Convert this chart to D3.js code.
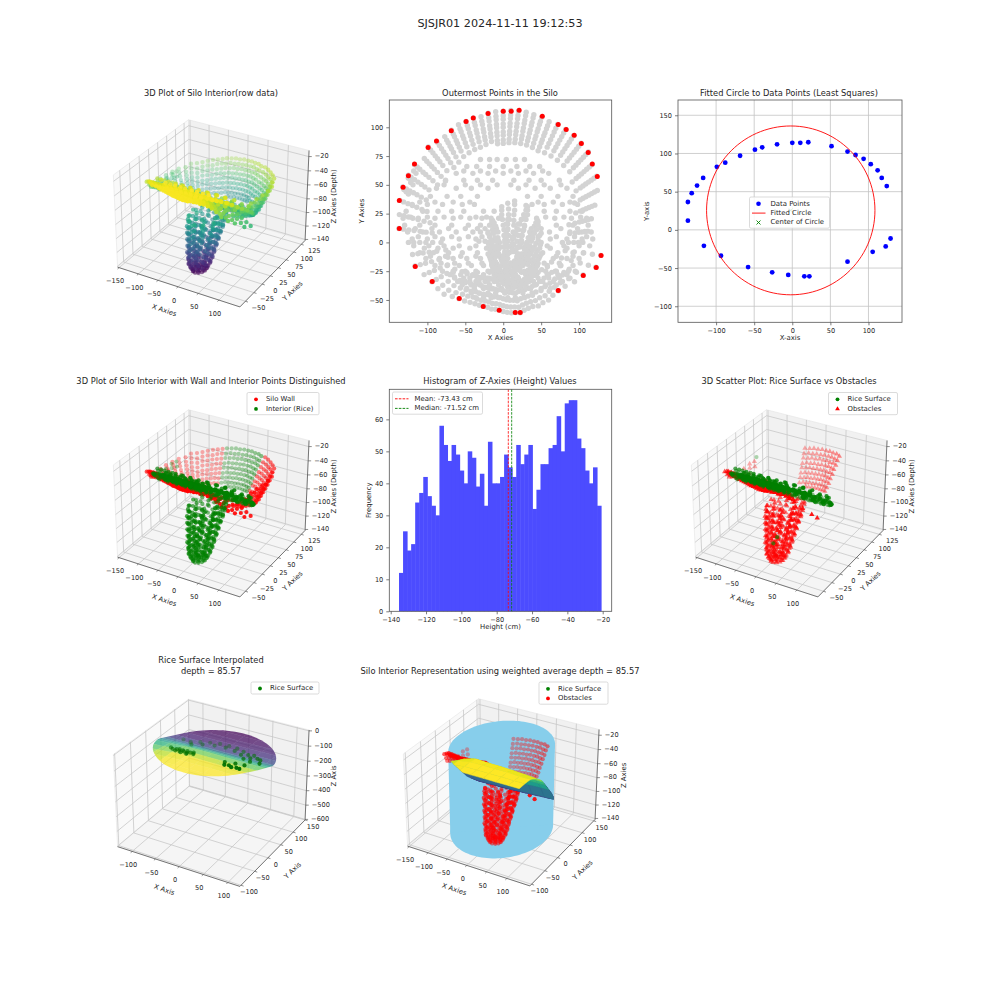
<!DOCTYPE html>
<html><head><meta charset="utf-8">
<script src="https://cdnjs.cloudflare.com/ajax/libs/d3/7.8.5/d3.min.js"></script>
<style>html,body{margin:0;background:#fff}svg{display:block}text{font-family:"DejaVu Sans",sans-serif;fill:#262626}</style>
</head><body><svg id="c" width="1000" height="1000"></svg>
<script>
// ---------- data ----------
const outerX=[-137,-137,-132,-125,-117,-99,-88,-68.5,-49,-39.5,-20,0,10.5,21,51.5,72.5,83,93.6,103,112,117.4,124,129,122.6,105.5,72.5,22.4,15.8,-5.3,-26.4,-58,-93.6,-116];
const outerY=[12,36.5,48,58,68,82.5,88,97,105,108,112,114,114,114.7,109.5,102.5,98,93,86,78,68,57.3,-11.3,-21.7,-28.7,-41.7,-60.8,-60.8,-59,-55.6,-48.7,-33.9,-20.9];
const circleCenter=[-2,25.5], circleRadius=110.5;
const histCounts=[12,25,19,21,34,37,42,36,33,30,58,52,47,52,49,44,40,50,48,39,43,33,53,40,40,42,49,45,42,52,46,49,52,32,38,46,46,51,52,61,50,65,66,66,54,51,44,40,45,33];
const histMin=-135.3, histMax=-20.9, zMean=-73.43, zMedian=-71.52;
// rays: [azimuth, [radius,z, radius,z, ...]]
const wallRaysRight=[[0,[105,-44,99,-48,93,-52,86,-56,78,-58]],[5,[112,-39,108,-44,104,-49,100,-54,95,-58,88,-60]],[10,[118,-37,114,-42,110,-48,106,-53,102,-58,96,-62,88,-64]],[15,[125,-36,121,-41,117,-47,113,-52,109,-57,105,-62,99,-65]],[20,[132,-35,128,-40,124,-46,120,-51,116,-56,112,-61,108,-65,100,-68]],[25,[136,-34,132,-39,128,-45,124,-50,120,-55,116,-60,112,-65,106,-69]],[30,[135,-33,131,-38,127,-44,123,-49,119,-54,115,-60,111,-65,105,-70]],[35,[137,-33,133,-38,129,-44,125,-49,121,-54,117,-60,113,-65,107,-70]],[40,[134,-33,130,-38,126,-44,122,-49,118,-55,114,-60,110,-65,104,-71]],[45,[131,-33,127,-39,123,-44,119,-50,115,-55,111,-61,107,-66,101,-71]],[50,[128,-33,124,-39,120,-45,116,-50,112,-56,108,-61,104,-66,98,-72]],[55,[125,-33,121,-39,117,-45,113,-51,109,-56,105,-62,101,-67,95,-73]]];
const backRays=[[60,[121,-34,117,-39,114,-45,110,-50,107,-56,103,-61,100,-67,96,-72,92,-76]],[65,[120,-34,116,-40,113,-45,109,-51,106,-56,102,-62,99,-67,95,-73,91,-77]],[70,[118,-35,115,-40,111,-46,108,-51,104,-57,101,-62,97,-68,94,-73,90,-78]],[75,[117,-35,114,-41,110,-46,107,-52,103,-57,100,-63,96,-68,93,-74,89,-78]],[80,[116,-36,112,-41,109,-47,105,-52,102,-58,98,-63,95,-69,91,-74,88,-79]],[85,[115,-36,111,-42,108,-47,104,-53,101,-58,97,-64,94,-69,90,-75,87,-79]],[90,[114,-37,110,-42,107,-48,103,-53,100,-59,96,-64,93,-70,89,-75,86,-80]],[95,[114,-37,110,-43,107,-48,103,-54,100,-59,96,-65,93,-70,89,-76,86,-80]],[100,[114,-38,110,-43,107,-49,103,-54,100,-60,96,-65,93,-71,89,-76]],[105,[113,-38,109,-44,106,-49,102,-55,99,-60,95,-66,92,-71,88,-77]]];
const wallRaysLeft=[[110,[115,-40,111,-45,108,-51,104,-56,101,-62,97,-67,93,-73,88,-78]],[115,[116,-41,112,-46,109,-52,105,-57,102,-63,98,-68,94,-73,89,-78]],[120,[118,-42,114,-48,111,-53,107,-59,104,-64,100,-69,96,-74,90,-79]],[125,[119,-43,115,-48,112,-54,108,-59,105,-65,101,-69,97,-74,91,-78]],[130,[120,-44,116,-49,113,-54,109,-59,106,-65,102,-69,97,-74,91,-77]],[135,[123,-45,119,-51,115,-56,111,-61,107,-66,103,-70,98,-74,92,-77]],[140,[129,-46,125,-51,121,-56,117,-61,113,-65,109,-69,104,-72,97,-75]],[145,[127,-48,123,-53,119,-57,115,-61,111,-65,106,-68,100,-71,93,-73]],[150,[135,-50,131,-54,127,-58,122,-62,118,-65,113,-67,107,-69,100,-70]],[155,[138,-52,134,-55,129,-58,124,-61,119,-64,114,-66,108,-67]],[160,[141,-54,136,-57,131,-59,126,-61,121,-63,115,-65,108,-65]],[165,[141,-55,136,-57,130,-59,124,-60,118,-61,111,-62,104,-62]],[170,[139,-56,133,-57,127,-58,121,-58,114,-58,106,-58,98,-58]],[175,[138,-55,132,-55,125,-55,118,-54,110,-54,102,-54,94,-53]]];
const frontRays=[[180,[125,-50,118,-49,110,-47,102,-46,93,-46,82,-46]],[185,[120,-42,113,-41,106,-40,98,-41,88,-42,76,-43]],[190,[118,-33,111,-33,104,-34,96,-35,86,-37,74,-39]],[195,[108,-28,101,-29,94,-30,86,-32,76,-35]],[200,[100,-24,94,-25,87,-27,79,-30,68,-34]],[205,[95,-23,88,-24,80,-26,71,-30,60,-33]],[210,[90,-22,83,-23,75,-25,66,-28,55,-32]],[215,[82,-21,76,-22,69,-24,61,-27,50,-30]],[220,[76,-21,70,-22,64,-23,56,-26,46,-29]],[225,[72,-21,66,-21,60,-22,52,-25,43,-28]],[230,[68,-21,62,-21,56,-22,48,-24,40,-27]],[235,[65,-21,60,-21,54,-22,47,-24,38,-26]],[240,[63,-21,58,-21,52,-22,45,-23,36,-26]],[245,[61,-21,56,-21,50,-22,44,-23,35,-25]],[250,[60,-21,55,-21,49,-22,43,-23,34,-25]],[255,[60,-21,55,-21,49,-22,42,-23,33,-25]],[260,[59,-21,54,-21,48,-22,42,-23,33,-24]],[265,[59,-21,54,-21,48,-22,41,-23,32,-24]],[270,[60,-21,55,-21,49,-22,42,-23,33,-25]],[275,[61,-21,56,-21,50,-22,43,-23,34,-25]],[280,[62,-21,57,-21,51,-22,44,-23,35,-25]],[285,[63,-21,58,-21,52,-22,45,-23,36,-25]],[290,[65,-21,60,-21,54,-22,47,-23,38,-25]],[295,[65,-21,60,-22,54,-23,47,-24,38,-26]],[300,[66,-22,61,-22,55,-23,48,-24,39,-27]],[305,[68,-22,63,-22,57,-23,50,-25,41,-28]],[310,[72,-23,66,-23,60,-24,52,-26,43,-29]],[315,[74,-24,68,-24,61,-25,54,-27,45,-30]],[320,[78,-26,72,-26,65,-27,57,-28,48,-31]],[325,[80,-30,74,-30,67,-30,59,-30,50,-33]],[330,[84,-35,78,-34,71,-33,62,-33,52,-35]]];
const rimRaysRight=[[335,[90,-42,83,-40,75,-38,66,-36,56,-37]],[340,[100,-47,92,-45,83,-42,73,-39,62,-39]],[345,[109,-51,100,-49,90,-46,78,-43,66,-41]],[350,[124,-56,114,-53,103,-50,91,-47,78,-44]],[355,[129,-58,118,-55,106,-52,94,-49,82,-46]]];
// rice sheet rows: [y, z, [x...]]
const riceRows=[[-48,-21,[-36,-26,-16,-6,6,16,28]],[-44,-21,[-42,-32,-20,-10,2,14,26,38]],[-40,-22,[-48,-38,-26,-14,-2,10,24,36,50,62]],[-37,-23,[-54,-42,-30,-18,-6,6,18,30,42,56,70]],[-34,-24,[-60,-50,-36,-24,-12,2,14,26,40,52,66,78]],[-34,-20,[-56,-44,-32,-20,-8,8,20,34,48]],[-31,-25,[-64,-52,-44,-30,-20,-8,6,20,34,46,60,74,88]],[-28,-27,[-70,-56,-40,-26,-12,0,16,30,44,58,72,84]],[-26,-33,[-66,-48,-34,-18,-2,14,28,46,64,80]],[-25,-29,[-80,-66,-50,-36,-20,-4,12,28,42,56,70,86,95]],[-20,-32,[-90,-74,-58,-42,-26,-10,8,24,40,58,76,92]],[-18,-26,[-82,-64,-46,-28,-10,10,32,54,74]],[-14,-36,[-102,-84,-66,-48,-30,-12,6,26,46,66,84,100]],[-12,-42,[-96,-76,-56,-36,-16,4,24,48,70,92]],[-9,-39,[-110,-92,-72,-54,-34,-14,8,30,52,72,92,106]],[-5,-33,[-104,-86,-66,-44,-22,18,40,62,84]],[-3,-43,[-118,-98,-78,-58,-36,-16,10,34,58,80,100,114]],[1,-46,[-32,-24,-14,-6]],[3,-47,[-120,-100,-80,-58,-36,12,38,62,84,104,118]],[5,-41,[-112,-90,-68,-46,-28,-18,46,70,94,110]],[9,-51,[-126,-106,-84,-62,-40,-30,-20,-10,40,61,88,108,116]],[12,-57,[-116,-94,-72,-50,-34,-24,-12,50,76,98]],[15,-55,[-130,-110,-90,-68,-46,-30,-18,46,70,92,112]],[21,-59,[-132,-112,-90,-66,-44,-28,-16,-6,44,68,90,110]],[22,-52,[-122,-100,-78,-56,-36,-22,56,80,102]],[27,-63,[-128,-106,-86,-68,-52,-26,-12,54,70,88,104]],[33,-67,[-120,-100,-80,-54,-38,38,54,78,98]],[35,-60,[-110,-90,-66,-44,46,66,88]],[40,-71,[-96,-74,-56,-34,32,50,72,92]],[47,-76,[-88,-62,-42,-20,20,42,62,84]],[50,-69,[-78,-50,-30,-8,10,30,54,76]],[54,-80,[-76,-52,-34,-14,14,34,50,74]],[60,-84,[-62,-40,-20,0,20,40,60]],[62,-76,[-52,-30,-10,10,30,52]],[66,-88,[-48,-35,-18,0,18,35,48]],[72,-91,[-30,-18,-8,4,16,28]]];
// funnel rings: [z, [x,y, x,y, ...]]
const funnelRings=[[-135,[26,-20,24,-14,19,-10,12,-8,5,-10,0,-14,-2,-20,0,-26,5,-30,12,-32,19,-30,24,-26,10,-18,16,-23,8,-24,15,-16]],[-132,[29,-17,26,-10,16,-7,6,-8,-3,-14,-5,-22,1,-30,10,-34,20,-32,28,-26,12,-20,18,-14,6,-22]],[-128,[32,-19,30,-10,22,-4,12,-1,2,-4,-6,-10,-8,-19,-6,-28,2,-34,12,-37,22,-34,30,-28,4,-16,18,-12,14,-26,8,-24,20,-20]],[-125,[33,-12,28,-4,18,1,6,1,-4,-4,-9,-12,-10,-24,-4,-32,6,-37,18,-37,28,-32,33,-24,2,-10,14,-8,22,-16,16,-28,4,-26]],[-121,[36,-17,33,-6,24,2,13,5,2,2,-7,-6,-10,-17,-7,-28,2,-36,13,-39,24,-36,33,-28,4,-14,20,-10,22,-24,10,-28]],[-117,[36,-10,31,0,20,6,7,6,-5,0,-10,-10,-11,-22,-5,-32,7,-38,20,-38,31,-32,36,-22,0,-16,12,-6,24,-12,14,-30,2,-24]],[-113,[38,-15,35,-3,25,6,13,9,1,6,-9,-3,-12,-15,-9,-27,1,-36,13,-39,25,-36,35,-27,6,-10,20,-4,26,-18,8,-28]],[-109,[38,-7,33,4,20,11,6,11,-7,4,-12,-7,-13,-21,-7,-32,6,-39,20,-39,33,-32,38,-21,0,-12,14,-2,24,-10,18,-30,4,-24]],[-105,[41,-12,37,1,27,11,14,15,1,11,-9,1,-13,-12,-9,-25,1,-35,14,-39,27,-35,37,-25,6,-4,22,-2,30,-14,16,-28,2,-20]],[-101,[41,-4,35,9,22,16,6,16,-7,9,-13,-4,-14,-18,-8,-30,6,-38,22,-38,35,-30,41,-18,2,-8,14,4,28,-6,20,-24,6,-26]],[-97,[43,-10,39,4,28,15,14,19,0,15,-11,4,-15,-10,-11,-24,0,-35,14,-39,28,-35,39,-24,4,-2,24,0,32,-14,12,-26,-2,-16]],[-93,[43,-1,37,12,24,20,6,20,-9,12,-15,-1,-16,-16,-10,-28,6,-37,24,-37,37,-28,43,-16,0,-4,16,8,30,-2,22,-22,4,-24]],[-89,[45,-7,41,8,30,20,14,24,-1,20,-13,8,-17,-7,-13,-22,-1,-33,14,-38,30,-33,41,-22,4,4,24,6,34,-10,14,-24,-4,-12]],[-85,[46,2,41,14,27,24,7,24,-10,14,-16,2,-17,-14,-12,-26,7,-36,27,-36,40,-26,47,-14,2,0,18,12,34,2,24,-20,4,-20]],[-81,[48,-5,44,11,32,24,15,28,-2,24,-14,11,-18,-5,-14,-21,-2,-33,15,-38,32,-33,44,-21,4,8,26,10,36,-8,16,-22,-6,-10]],[-77,[48,6,43,17,30,28,7,29,-12,17,-18,6,-18,-12,-14,-24,7,-35,30,-35,43,-24,48,-12,2,6,20,16,36,6,26,-18,2,-18]],[-73,[49,-2,45,15,32,28,15,33,-2,28,-15,15,-19,-2,-15,-19,-2,-32,15,-37,32,-32,45,-19,6,12,28,14,38,-6,16,-20,-8,-8]],[-69,[50,8,45,19,30,32,6,34,-14,19,-20,8,-20,-10,-15,-20,6,-34,30,-32,45,-20,50,-10,4,16,24,20,38,4,22,-16,0,-14]],[-65,[50,0,46,18,32,31,15,36,-2,31,-15,18,-20,0,-15,-18,-2,-31,15,-36,32,-31,46,-18,8,20,28,22,40,-6,18,-18,-6,-6]]];
const leftCluster=[[-125,56,-54],[-125,56,-60],[-122,52,-66],[-119,50,-72],[-131,46,-58],[-128,44,-64],[-125,42,-70],[-118,62,-52],[-115,60,-58]];
const riceOutliers=[[-118,68,-48],[12,-20,-104],[6,-24,-112]];
const riceSample=[[-62,42,-72],[-50,56,-81],[-35,66,-88],[-18,73,-92],[0,75,-94],[18,73,-92],[35,66,-88],[50,56,-81],[62,42,-72],[70,26,-62],[80,46,-75],[88,28,-63],[-40,47,-76],[-21,58,-83],[0,62,-85],[21,58,-83],[40,47,-76],[54,31,-65],[-54,31,-65],[-80,46,-75],[60,60,-84],[72,50,-78],[-72,-10,-38],[-66,-14,-36],[-60,-10,-38],[-56,-6,-41],[-52,-14,-36],[-48,-8,-39],[-44,-12,-37],[-40,-6,-41],[-36,-14,-36],[-32,-9,-39],[-28,-4,-43],[-24,-12,-37],[-58,-18,-33],[-46,-20,-32],[-34,-20,-32],[45,-22,-30],[52,-18,-33],[60,-24,-29],[68,-20,-32],[75,-22,-30],[38,-8,-40],[56,-2,-44],[72,2,-47]];
const gridX=[-118,-88,-58,-28,2,32,62,92,118];
const gridY=[-90,-70,-50,-30,-10,10,20,30,45,65,85,105,125,140];
const gridZ=[[-30,-26,-22,-21,-21,-21,-21,-21,-21],[-32,-28,-23,-21,-21,-21,-21,-21,-21],[-36,-30,-24,-21,-21,-21,-21,-22,-22],[-42,-36,-28,-23,-24,-24,-25,-26,-27],[-50,-44,-37,-33,-34,-34,-35,-36,-36],[-58,-52,-47,-44,-44,-45,-45,-46,-46],[-64,-60,-56,-55,-54,-54,-54,-54,-54],[-72,-70,-68,-67,-66,-65,-64,-63,-63],[-86,-85,-85,-84,-84,-83,-82,-81,-81],[-95,-95,-94,-94,-93,-92,-91,-90,-88],[-98,-98,-98,-97,-97,-96,-95,-94,-92],[-101,-101,-101,-100,-100,-99,-98,-97,-95],[-103,-103,-103,-102,-102,-101,-100,-99,-98],[-104,-104,-104,-103,-103,-103,-102,-101,-100]];
const xTicksA=[-150,-100,-50,0,50,100], yTicksA=[-50,-25,0,25,50,75,100,125], zTicksA=[-140,-120,-100,-80,-60,-40,-20];
// ---------- expand data ----------
const rad=d3.scaleLinear().domain([0,180]).range([0,Math.PI]);
const fromRays=rs=>rs.flatMap(([a,l])=>d3.range(0,l.length,2).map(i=>[l[i]*Math.cos(rad(a)),l[i]*Math.sin(rad(a)),l[i+1]]));
const fromRice=riceRows.flatMap(([y,z,xs])=>xs.map(x=>[x,y,z]));
const fromFunnel=funnelRings.flatMap(([z,l])=>d3.range(0,l.length,2).map(i=>[l[i],l[i+1],z]));
const wallR=fromRays(wallRaysRight), wallL=fromRays(wallRaysLeft), back=fromRays(backRays), front=fromRays(frontRays), rimR=fromRays(rimRaysRight);
const wallPts=[...wallR,...wallL,...front,...rimR];
const interiorPts=[...back,...leftCluster,...fromRice,...fromFunnel];
const obstaclePts=[...back,...leftCluster,...front,...fromFunnel,[104,-30,-52],[112,-24,-58]];
const ricePts=[...fromRice,...riceOutliers];
const allPts=[...wallPts,...interiorPts];
// ---------- drawing ----------
const svg=d3.select("#c");
const viridis=d3.scaleSequential(d3.interpolateViridis).domain([-136,-20]);
const surfColor=d3.scaleSequential(d3.interpolateViridis).domain([-104,-21]);
const TICK=6.6, LAB=6.9, TITLE=8.3;
function title(lines,x,y){lines.forEach((t,i)=>svg.append("text").attr("x",x).attr("y",y+i*11).attr("text-anchor","middle").attr("font-size",TITLE).attr("dominant-baseline","middle").text(t));}
function legend(x,y,w,rows,rowH){
  const g=svg.append("g");
  g.append("rect").attr("x",x).attr("y",y).attr("width",w).attr("height",rows.length*rowH+3).attr("rx",1.5).attr("fill","#fff").attr("fill-opacity",.85).attr("stroke","#ccc").attr("stroke-width",.7);
  rows.forEach((r,i)=>{const cy=y+2+rowH*(i+.5), kx=x+9;
    if(r.kind=="dot")g.append("circle").attr("cx",kx).attr("cy",cy).attr("r",r.r||1.9).attr("fill",r.color);
    if(r.kind=="tri")g.append("path").attr("transform",`translate(${kx},${cy})`).attr("d",d3.symbol(d3.symbolTriangle,10)()).attr("fill",r.color);
    if(r.kind=="x")g.append("path").attr("transform",`translate(${kx},${cy})`).attr("d","M-2,-2L2,2M-2,2L2,-2").attr("stroke",r.color).attr("stroke-width",.9);
    if(r.kind=="line")g.append("line").attr("x1",x+2.5).attr("x2",x+16).attr("y1",cy).attr("y2",cy).attr("stroke",r.color).attr("stroke-width",.9).attr("stroke-dasharray",r.dash||null);
    g.append("text").attr("x",x+(r.tx||19)).attr("y",cy).attr("dominant-baseline","middle").attr("font-size",LAB).text(r.text);
  });
}
function makeAxes3D(o){
  const A=[1.1429,1.1429,.8572], el=30*Math.PI/180, az=-60*Math.PI/180, D=10;
  const sx=d3.scaleLinear().domain(o.xlim).range([0,A[0]]), sy=d3.scaleLinear().domain(o.ylim).range([0,A[1]]), sz=d3.scaleLinear().domain(o.zlim).range([0,A[2]]);
  const n=[Math.cos(el)*Math.cos(az),Math.cos(el)*Math.sin(az),Math.sin(el)];
  const u=[-n[1],n[0],0].map(v=>v/Math.hypot(n[0],n[1])), v=[n[1]*u[2]-n[2]*u[1],n[2]*u[0]-n[0]*u[2],n[0]*u[1]-n[1]*u[0]];
  const E=A.map((a,i)=>a/2+D*n[i]), S=o.W/2/.095;
  const dot=(a,b)=>a[0]*b[0]+a[1]*b[1]+a[2]*b[2];
  const project=p=>{const q=[sx(p[0])-E[0],sy(p[1])-E[1],sz(p[2])-E[2]], w=-dot(q,n);
    return {x:o.cx+S*dot(q,u)/w, y:o.cy-S*dot(q,v)/w, d:w};};
  const [x0,x1]=o.xlim,[y0,y1]=o.ylim,[z0,z1]=o.zlim;
  const path=pts=>d3.line().x(d=>project(d).x).y(d=>project(d).y)(pts);
  const g=svg.append("g");
  g.append("path").attr("d",path([[x0,y0,z0],[x0,y1,z0],[x0,y1,z1],[x0,y0,z1]])+"Z").attr("fill","#f9f9f9").attr("stroke","#e4e4e4").attr("stroke-width",.6);
  g.append("path").attr("d",path([[x0,y1,z0],[x1,y1,z0],[x1,y1,z1],[x0,y1,z1]])+"Z").attr("fill","#f1f1f1").attr("stroke","#e4e4e4").attr("stroke-width",.6);
  g.append("path").attr("d",path([[x0,y0,z0],[x1,y0,z0],[x1,y1,z0],[x0,y1,z0]])+"Z").attr("fill","#f5f5f5").attr("stroke","#e4e4e4").attr("stroke-width",.6);
  const grid=pts=>g.append("path").attr("d",path(pts)).attr("fill","none").attr("stroke","#c8c8c8").attr("stroke-width",.8);
  const fmt=d3.format("d"), ydx=o.ydx||13;
  o.xticks.forEach(t=>{grid([[t,y0,z0],[t,y1,z0],[t,y1,z1]]);
    const a=project([t,y0,z0]);
    g.append("text").attr("x",a.x-4).attr("y",a.y+14).attr("text-anchor","middle").attr("dominant-baseline","middle").attr("font-size",TICK).text(fmt(t));
    const b=project([t,y0-(y1-y0)*.02,z0]);g.append("line").attr("x1",a.x).attr("y1",a.y).attr("x2",b.x).attr("y2",b.y).attr("stroke","#444").attr("stroke-width",.6);});
  o.yticks.forEach(t=>{grid([[x1,t,z0],[x0,t,z0],[x0,t,z1]]);
    const a=project([x1,t,z0]);
    g.append("text").attr("x",a.x+ydx).attr("y",a.y+7).attr("text-anchor","middle").attr("dominant-baseline","middle").attr("font-size",TICK).text(fmt(t));
    const b=project([x1+(x1-x0)*.02,t,z0]);g.append("line").attr("x1",a.x).attr("y1",a.y).attr("x2",b.x).attr("y2",b.y).attr("stroke","#444").attr("stroke-width",.6);});
  o.zticks.forEach(t=>{grid([[x0,y0,t],[x0,y1,t],[x1,y1,t]]);
    const a=project([x1,y1,t]);
    g.append("text").attr("x",a.x+6).attr("y",a.y).attr("dominant-baseline","middle").attr("font-size",TICK).text(fmt(t));
    g.append("line").attr("x1",a.x).attr("y1",a.y).attr("x2",a.x+3).attr("y2",a.y).attr("stroke","#444").attr("stroke-width",.6);});
  [[[x0,y0,z0],[x1,y0,z0]],[[x1,y0,z0],[x1,y1,z0]],[[x1,y1,z0],[x1,y1,z1]]].forEach(s=>g.append("path").attr("d",path(s)).attr("stroke","#555").attr("stroke-width",.8).attr("fill","none"));
  const mx=project([(x0+x1)/2,y0,z0]), my=project([x1,(y0+y1)/2,z0]), mz=project([x1,y1,(z0+z1)/2]);
  const lab=(t,x,y,r)=>g.append("text").attr("transform",`translate(${x},${y}) rotate(${r})`).attr("text-anchor","middle").attr("dominant-baseline","middle").attr("font-size",LAB).text(t);
  lab(o.xlabel,mx.x-13,mx.y+24,19);lab(o.ylabel,my.x+19,my.y+19,-44);lab(o.zlabel,mz.x+27,mz.y,-90);
  return {project,path};
}
function scatter3D(ax,pts,colorOf,r,shade=true,marker="dot"){
  const P=pts.map(p=>({...ax.project(p),p}));
  const ext=d3.extent(P,d=>d.d), fade=d3.scaleLinear().domain(ext).range([1,.3]);
  P.sort((a,b)=>b.d-a.d);
  const g=svg.append("g");
  const sel=g.selectAll("x").data(P).enter();
  if(marker=="dot")sel.append("circle").attr("cx",d=>d.x).attr("cy",d=>d.y).attr("r",r).attr("fill",d=>colorOf(d.p)).attr("fill-opacity",d=>shade?fade(d.d):1);
  else sel.append("path").attr("transform",d=>`translate(${d.x},${d.y})`).attr("d",d3.symbol(d3.symbolTriangle,r)()).attr("fill",d=>colorOf(d.p)).attr("fill-opacity",d=>shade?fade(d.d):1);
}
function surface(ax,group){
  const quads=[];
  for(let j=0;j<gridY.length-1;j++)for(let i=0;i<gridX.length-1;i++){
    const c=[[gridX[i],gridY[j],gridZ[j][i]],[gridX[i+1],gridY[j],gridZ[j][i+1]],[gridX[i+1],gridY[j+1],gridZ[j+1][i+1]],[gridX[i],gridY[j+1],gridZ[j+1][i]]];
    quads.push({c,z:d3.mean(c,d=>d[2]),d:d3.mean(c,d=>ax.project(d).d)});
  }
  quads.sort((a,b)=>b.d-a.d);
  group.selectAll("path.q").data(quads).enter().append("path").attr("class","q").attr("d",d=>ax.path(d.c)+"Z").attr("fill",d=>surfColor(d.z)).attr("stroke",d=>surfColor(d.z)).attr("stroke-width",.5);
}
const zAtY=d3.scaleLinear().domain(gridY).range(gridZ.map(r=>r[4]));
function discHull(ax){
  const pts=d3.range(0,360,4).map(a=>{const x=circleCenter[0]+circleRadius*Math.cos(rad(a)), y=circleCenter[1]+circleRadius*Math.sin(rad(a));return ax.project([x,y,zAtY(y)]);}).map(p=>[p.x,p.y]);
  gridY.forEach((y,j)=>gridX.forEach((x,i)=>{if(Math.hypot(x-circleCenter[0],y-circleCenter[1])<circleRadius){const p=ax.project([x,y,gridZ[j][i]]);pts.push([p.x,p.y]);}}));
  return d3.polygonHull(pts);
}
function frame2D(x,y,xlab,ylab,xr,yr,xt,yt,lx){
  const g=svg.append("g");
  g.append("g").attr("transform",`translate(0,${yr})`).call(d3.axisBottom(x).tickValues(xt).tickSize(3).tickFormat(d3.format("d")));
  g.append("g").attr("transform",`translate(${xr},0)`).call(d3.axisLeft(y).tickValues(yt).tickSize(3).tickFormat(d3.format("d")));
  g.selectAll("text").attr("font-size",TICK).attr("font-family",'"DejaVu Sans"').attr("fill","#262626");
  g.selectAll("line").attr("stroke","#444").attr("stroke-width",.7);
  g.selectAll(".domain").remove();
  const [a,b]=x.range(),[c,d]=y.range();
  svg.append("rect").attr("x",a).attr("y",d).attr("width",b-a).attr("height",c-d).attr("fill","none").attr("stroke","#555").attr("stroke-width",.8);
  svg.append("text").attr("x",(a+b)/2).attr("y",c+16).attr("text-anchor","middle").attr("dominant-baseline","middle").attr("font-size",LAB).text(xlab);
  svg.append("text").attr("transform",`translate(${lx},${(c+d)/2}) rotate(-90)`).attr("text-anchor","middle").attr("dominant-baseline","middle").attr("font-size",LAB).text(ylab);
}
svg.append("text").attr("x",500).attr("y",24).attr("text-anchor","middle").attr("dominant-baseline","middle").attr("font-size",11.2).text("SJSJR01 2024-11-11 19:12:53");

// Panel 1
const base={W:233,xlim:[-154,150],ylim:[-66,138],zlim:[-141.5,-11.5],xticks:xTicksA,yticks:yTicksA,zticks:zTicksA,xlabel:"X Axies",ylabel:"Y Axies",zlabel:"Z Axies (Depth)"};
title(["3D Plot of Silo Interior(row data)"],211,93);
const a1=makeAxes3D({...base,cx:213,cy:209});
scatter3D(a1,allPts,p=>viridis(p[2]),2.2);

// Panel 2
title(["Outermost Points in the Silo"],500,93);
{const x=d3.scaleLinear().domain([-150.2,143]).range([389.3,611.7]), y=d3.scaleLinear().domain([-69.4,123.7]).range([322.3,100]);
 const g=svg.append("g");
 g.selectAll("circle").data(allPts).enter().append("circle").attr("cx",d=>x(d[0])).attr("cy",d=>y(d[1])).attr("r",2.7).attr("fill","#d3d3d3");
 svg.append("g").selectAll("circle").data(outerX).enter().append("circle").attr("cx",d=>x(d)).attr("cy",(d,i)=>y(outerY[i])).attr("r",2.5).attr("fill","#ff0000");
 frame2D(x,y,"X Axies","Y Axies",389.3,322.3,[-100,-50,0,50,100],[-50,-25,0,25,50,75,100],362);}

// Panel 3
title(["Fitted Circle to Data Points (Least Squares)"],789,93);
{const x=d3.scaleLinear().domain([-150,144]).range([678,902]), y=d3.scaleLinear().domain([-121,170]).range([322.3,100]);
 const xt=[-100,-50,0,50,100], yt=[-100,-50,0,50,100,150];
 const g=svg.append("g");
 xt.forEach(t=>g.append("line").attr("x1",x(t)).attr("x2",x(t)).attr("y1",100).attr("y2",322.3).attr("stroke","#c4c4c4").attr("stroke-width",.8));
 yt.forEach(t=>g.append("line").attr("y1",y(t)).attr("y2",y(t)).attr("x1",678).attr("x2",902).attr("stroke","#c4c4c4").attr("stroke-width",.8));
 g.selectAll("circle").data(outerX).enter().append("circle").attr("cx",d=>x(d)).attr("cy",(d,i)=>y(outerY[i])).attr("r",2.4).attr("fill","#0000ff");
 const ring=d3.range(0,361,3).map(a=>[circleCenter[0]+circleRadius*Math.cos(rad(a)),circleCenter[1]+circleRadius*Math.sin(rad(a))]);
 g.append("path").attr("d",d3.line().x(d=>x(d[0])).y(d=>y(d[1]))(ring)).attr("fill","none").attr("stroke","#ff0000").attr("stroke-width",.9);
 g.append("path").attr("transform",`translate(${x(circleCenter[0])},${y(circleCenter[1])})`).attr("d","M-2,-2L2,2M-2,2L2,-2").attr("stroke","#008000").attr("stroke-width",.9);
 frame2D(x,y,"X-axis","Y-axis",678,322.3,xt,yt,647);
 legend(749.5,197,80,[{kind:"dot",color:"#0000ff",r:2.3,text:"Data Points",tx:21},{kind:"line",color:"#ff0000",text:"Fitted Circle",tx:21},{kind:"x",color:"#008000",text:"Center of Circle",tx:21}],9.4);}

// Panel 4
title(["3D Plot of Silo Interior with Wall and Interior Points Distinguished"],211,381);
const a4=makeAxes3D({...base,cx:213,cy:499});
scatter3D(a4,wallPts,()=>"#ff0000",2.1);
scatter3D(a4,interiorPts,()=>"#008000",2.1);
legend(247,392.5,72,[{kind:"dot",color:"#ff0000",text:"Silo Wall"},{kind:"dot",color:"#008000",text:"Interior (Rice)"}],9.6);

// Panel 5: histogram
title(["Histogram of Z-Axies (Height) Values"],500,381);
{const x=d3.scaleLinear().domain([-140.8,-14.9]).range([389.3,611.7]), y=d3.scaleLinear().domain([0,69.4]).range([611.3,389.3]);
 const w=(histMax-histMin)/histCounts.length;
 svg.append("g").selectAll("rect").data(histCounts).enter().append("rect").attr("x",(d,i)=>x(histMin+i*w)).attr("width",x(w)-x(0)+.5).attr("y",d=>y(d)).attr("height",d=>y(0)-y(d)).attr("fill","#4c4cff");
 [[zMean,"#ff0000"],[zMedian,"#008000"]].forEach(([v,c])=>svg.append("line").attr("x1",x(v)).attr("x2",x(v)).attr("y1",389.3).attr("y2",611.3).attr("stroke",c).attr("stroke-width",.8).attr("stroke-dasharray","2.6,1.2"));
 frame2D(x,y,"Height (cm)","Frequency",389.3,611.3,[-140,-120,-100,-80,-60,-40,-20],[0,10,20,30,40,50,60],369);
 legend(392.5,392,90,[{kind:"line",color:"#ff0000",dash:"2.6,1.2",text:"Mean: -73.43 cm",tx:22},{kind:"line",color:"#008000",dash:"2.6,1.2",text:"Median: -71.52 cm",tx:22}],9.6);}

// Panel 6
title(["3D Scatter Plot: Rice Surface vs Obstacles"],789,381);
const a6=makeAxes3D({...base,cx:791,cy:499});
scatter3D(a6,obstaclePts,()=>"#ff0000",12,true,"tri");
scatter3D(a6,ricePts,()=>"#008000",2.1);
legend(828.5,392.5,69,[{kind:"dot",color:"#008000",text:"Rice Surface"},{kind:"tri",color:"#ff0000",text:"Obstacles"}],9.6);

// Panel 7
title(["Rice Surface Interpolated","depth = 85.57"],211,660);
const a7=makeAxes3D({cx:213,cy:788.5,W:233,ydx:8,xlim:[-132,124],ylim:[-104,150],zlim:[-604,6],xticks:[-100,-50,0,50,100],yticks:[-100,-50,0,50,100,150],zticks:[-600,-500,-400,-300,-200,-100,0],xlabel:"X Axis",ylabel:"Y Axis",zlabel:"Z Axis"});
{svg.append("clipPath").attr("id","c7").append("path").attr("d",d3.line()(discHull(a7))+"Z");
 const g=svg.append("g").attr("clip-path","url(#c7)").attr("opacity",.74);
 surface(a7,g);
 scatter3D(a7,riceSample,()=>"#007000",2.1);
 legend(251,682,68,[{kind:"dot",color:"#008000",text:"Rice Surface"}],9);}

// Panel 8
title(["Silo Interior Representation using weighted average depth = 85.57"],500,671);
const a8=makeAxes3D({cx:503,cy:788,W:233,ydx:8,xlim:[-154,156],ylim:[-106,156],zlim:[-141.5,-12],xticks:xTicksA,yticks:[-100,-50,0,50,100,150],zticks:zTicksA,xlabel:"X Axies",ylabel:"Y Axies",zlabel:"Z Axies"});
{const ringAt=z=>d3.range(0,360,3).map(a=>a8.project([circleCenter[0]+circleRadius*Math.cos(rad(a)),circleCenter[1]+circleRadius*Math.sin(rad(a)),z]));
 const topR=ringAt(-20), botR=ringAt(-135);
 const line=d3.line().x(d=>d.x).y(d=>d.y);
 const xs=topR.map(d=>d.x);
 const iL=xs.indexOf(d3.min(xs)), iR=xs.indexOf(d3.max(xs));
 const g=svg.append("g");
 [topR,botR].forEach(r=>g.append("path").attr("d",line(r)+"Z").attr("fill","#87ceeb"));
 g.append("path").attr("d",line([topR[iL],topR[iR],botR[iR],botR[iL]])+"Z").attr("fill","#87ceeb");
 scatter3D(a8,obstaclePts,()=>"#ff0000",2.1);
 svg.append("clipPath").attr("id","c8").append("path").attr("d",d3.line()(discHull(a8))+"Z");
 surface(a8,svg.append("g").attr("clip-path","url(#c8)"));
 legend(539,682,69,[{kind:"dot",color:"#008000",text:"Rice Surface"},{kind:"dot",color:"#ff0000",text:"Obstacles"}],9.6);}
</script></body></html>
